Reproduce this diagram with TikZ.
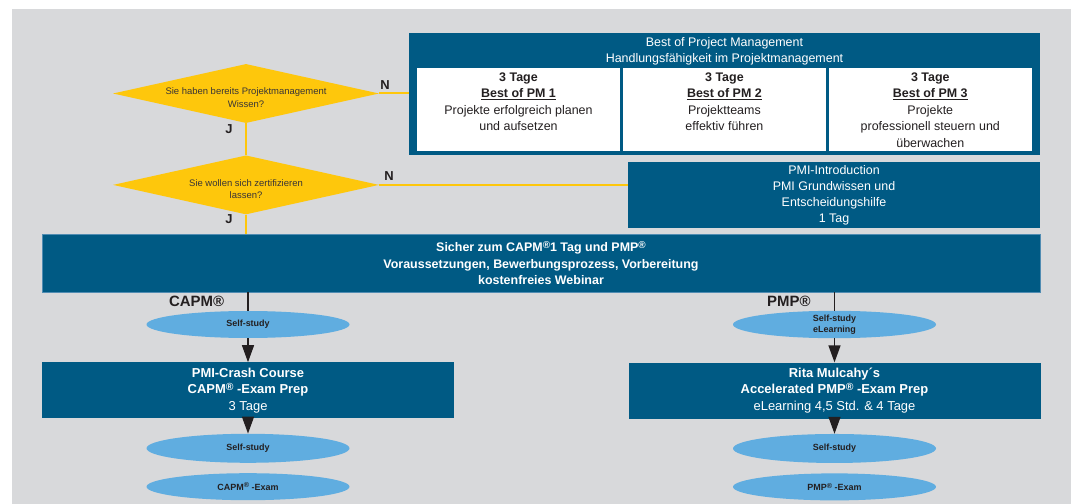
\documentclass[tikz,border=0pt]{standalone}
\usepackage{graphicx}
\usepackage{fontspec}
\setmainfont{Liberation Sans}
\usetikzlibrary{positioning,arrows.meta,shapes.geometric}
\definecolor{pmblue}{RGB}{0,90,132}
\definecolor{pmyellow}{RGB}{254,199,12}
\definecolor{pmsky}{RGB}{96,173,224}
\definecolor{pmgray}{RGB}{216,217,219}
\definecolor{pmtext}{RGB}{35,31,32}
\definecolor{pmedge}{RGB}{80,140,178}
\newcommand{\regmark}{\raisebox{0.28em}{\scalebox{0.8}{®}}}
\newcommand{\celltext}[1]{\parbox[t]{200bp}{\centering #1}}

\begin{document}
\begin{tikzpicture}
    [x=1bp, y=-1bp, >={Triangle[width=12bp,length=17bp]},
     decision/.style={diamond, fill=pmyellow, aspect=4.7, inner ysep=0pt, inner xsep=-15bp,
       text height=27.5bp, text depth=0bp,
       minimum width=266bp, minimum height=59bp, align=center,
       text=pmtext!90, font=\fontsize{9.5}{12.5}\selectfont},
     course/.style={rectangle, fill=pmblue, text=white, align=center, inner sep=0pt},
     headtext/.style={text=white, align=center, font=\fontsize{12.5}{16}\selectfont},
     cell/.style={rectangle, fill=white, text=pmtext, inner sep=0pt,
       minimum width=203bp, text height=13.5bp, text depth=69.5bp,
       font=\fontsize{12.5}{16.5}\selectfont},
     study/.style={ellipse, fill=pmsky, text=pmtext, align=center, inner sep=0pt,
       minimum width=203bp, minimum height=27bp,
       font=\bfseries\fontsize{9}{11}\selectfont},
     answer/.style={text=pmtext, font=\bfseries\fontsize{13}{15}\selectfont},
     regtag/.style={text=pmtext, font=\bfseries\fontsize{15}{17}\selectfont},
     yesno/.style={draw=pmyellow, line width=2bp},
     flow/.style={draw=pmtext, line width=1.3bp}]

    \useasboundingbox (0,0) rectangle (1076,504);
    \fill[pmgray] (12,9) rectangle (1071,504);

    % questions
    \node[decision] (wissen) at (246,93.5) {Sie haben bereits Projektmanagement\\Wissen?};
    \node[decision] (zert) [below=32bp of wissen] {Sie wollen sich zertifizieren\\lassen?};

    % best of project management
    \node[course, minimum width=631bp, minimum height=122bp] (bestpm) at (724.5,94) {};
    \node[headtext] (bestpmhead) at (724.5,51)
      {Best of Project Management\\Handlungsfähigkeit im Projektmanagement};
    \node[cell] (pmone) at (518.5,109.5)
      {\celltext{\textbf{3 Tage}\\\underline{\textbf{Best of PM 1}}\\Projekte erfolgreich planen\\und aufsetzen}};
    \node[cell] (pmtwo) [right=2.5bp of pmone]
      {\celltext{\textbf{3 Tage}\\\underline{\textbf{Best of PM 2}}\\Projektteams\\effektiv führen}};
    \node[cell] (pmthree) [right=2.5bp of pmtwo]
      {\celltext{\textbf{3 Tage}\\\underline{\textbf{Best of PM 3}}\\Projekte\\professionell steuern und\\überwachen}};

    \node[course, minimum width=412bp, minimum height=66bp,
      font=\fontsize{12.5}{16}\selectfont] (pmiintro) at (834,195)
      {PMI-Introduction\\PMI Grundwissen und\\Entscheidungshilfe\\1 Tag};

    \node[course, draw=pmedge, line width=0.8bp, minimum width=998bp, minimum height=58bp,
      font=\bfseries\fontsize{12.5}{16.5}\selectfont] (webinar) at (541,263)
      {Sicher zum CAPM\regmark1 Tag und PMP\regmark\\Voraussetzungen, Bewerbungsprozess, Vorbereitung\\kostenfreies Webinar};

    \draw[yesno] (wissen.east) -- node[answer, above, pos=0.2] {N} (wissen.east -| bestpm.west);
    \draw[yesno] (wissen.south) -- node[answer, left=9bp, pos=0.2] {J} (zert.north);
    \draw[yesno] (zert.east) -- node[answer, above, pos=0.04] {N} (zert.east -| pmiintro.west);
    \draw[yesno] (zert.south) -- node[answer, left=9bp, pos=0.25] {J} (zert.south |- webinar.north);

    % CAPM track
    \node[study] (capmself) at (248,324.5) {Self-study};
    \node[course, minimum width=412bp, minimum height=56bp,
      font=\bfseries\fontsize{13}{16.5}\selectfont] (capmcourse) [below=24bp of capmself]
      {PMI-Crash Course\\CAPM\regmark{} -Exam Prep\\\mdseries 3 Tage}
      edge [flow, <-] (capmself);
    \node[study, minimum height=29bp] (capmstudy) [below=15bp of capmcourse] {Self-study}
      edge [flow, <-] (capmcourse);
    \node[study] (capmexam) [below=10bp of capmstudy] {CAPM\regmark{} -Exam};

    % PMP track
    \node[study] (pmpself) at (834.5,324.5) {Self-study\\eLearning};
    \node[course, minimum width=412bp, minimum height=56bp,
      font=\bfseries\fontsize{13}{16.5}\selectfont] (pmpcourse) [below=24bp of pmpself]
      {Rita Mulcahy´s\\Accelerated PMP\regmark{} -Exam Prep\\\mdseries eLearning 4,5 Std. \& 4 Tage}
      edge [flow, <-] (pmpself);
    \node[study, minimum height=29bp] (pmpstudy) [below=15bp of pmpcourse] {Self-study}
      edge [flow, <-] (pmpcourse);
    \node[study] (pmpexam) [below=10bp of pmpstudy] {PMP\regmark{} -Exam};

    \draw[flow] (webinar.south -| capmself.north) -- node[regtag, left=20bp] {CAPM®} (capmself.north);
    \draw[flow] (webinar.south -| pmpself.north) -- node[regtag, left=20bp] {PMP®} (pmpself.north);
\end{tikzpicture}
\end{document}
